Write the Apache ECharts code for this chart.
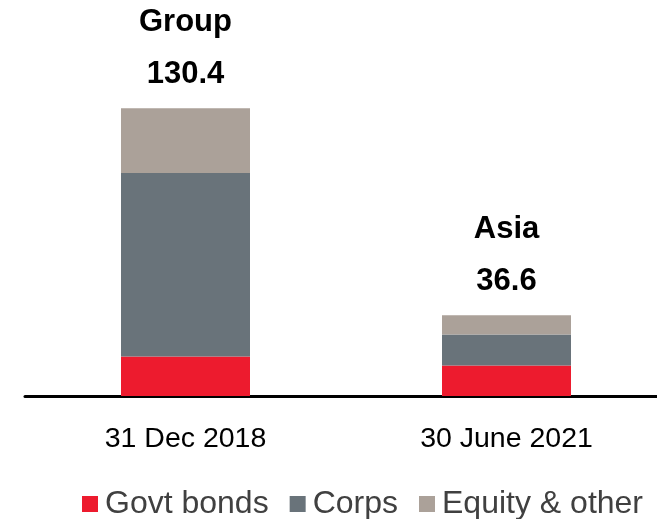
<!DOCTYPE html>
<html>
<head>
<meta charset="utf-8">
<script src="https://cdn.jsdelivr.net/npm/echarts@6/dist/echarts.min.js"></script>
<style>
  html, body { margin: 0; padding: 0; background: #fff; overflow: hidden; }
  /* the canvas is a touch wider than the page so the baseline runs off the right edge */
  #chart { width: 667px; height: 519px; }
</style>
</head>
<body>
<div id="chart"></div>
<script>
// Portfolio composition (US$ bn), stacked by asset type
const categories = ['31 Dec 2018', '30 June 2021'];
const groupNames = ['Group', 'Asia'];
const govtBonds = [17.9, 13.8];
const corps = [83.2, 14.1];
const equityOther = [29.3, 8.7];

const FONT = '"Liberation Sans", Arial, Helvetica, sans-serif';
const COLORS = { govt: '#ED1B2E', corps: '#69737A', equity: '#ABA199' };

const totals = categories.map((_, i) => govtBonds[i] + corps[i] + equityOther[i]);

const chart = echarts.init(document.getElementById('chart'), null, { renderer: 'canvas' });

chart.setOption({
  animation: false,
  backgroundColor: '#ffffff',
  textStyle: { fontFamily: FONT },
  grid: { left: 25, right: 0, top: 43, bottom: 123, containLabel: false, outerBoundsMode: 'none' },
  xAxis: {
    type: 'category',
    data: categories,
    axisLine: { show: true, lineStyle: { color: '#000', width: 3 } },
    axisTick: { show: false },
    axisLabel: { color: '#000', fontSize: 28.5, fontFamily: FONT, margin: 29 }
  },
  yAxis: {
    type: 'value',
    min: 0,
    max: 160,
    show: false,
    splitLine: { show: false }
  },
  legend: {
    left: 82,
    top: 488,
    padding: 0,
    itemWidth: 16,
    itemHeight: 16,
    itemGap: 21,
    icon: 'rect',
    textStyle: { color: '#404040', fontSize: 32, fontFamily: FONT, padding: [0, 0, 0, 2] },
    data: ['Govt bonds', 'Corps', 'Equity & other']
  },
  series: [
    {
      name: 'Govt bonds', type: 'bar', stack: 'total', barWidth: 129,
      itemStyle: { color: COLORS.govt },
      data: govtBonds
    },
    {
      name: 'Corps', type: 'bar', stack: 'total', barWidth: 129,
      itemStyle: { color: COLORS.corps },
      data: corps
    },
    {
      name: 'Equity & other', type: 'bar', stack: 'total', barWidth: 129,
      itemStyle: { color: COLORS.equity },
      data: equityOther,
      label: {
        show: true,
        position: 'top',
        distance: 8,
        formatter: p => '{n|' + groupNames[p.dataIndex] + '}\n{v|' + totals[p.dataIndex].toFixed(1) + '}',
        rich: {
          n: { fontSize: 31, fontWeight: 'bold', color: '#000', lineHeight: 52, fontFamily: FONT },
          v: { fontSize: 31, fontWeight: 'bold', color: '#000', lineHeight: 52, fontFamily: FONT }
        }
      }
    }
  ]
});
</script>
</body>
</html>
